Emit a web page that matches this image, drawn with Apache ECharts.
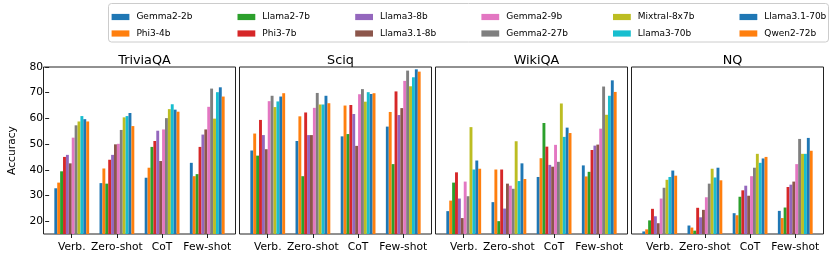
<!DOCTYPE html>
<html>
<head>
<meta charset="utf-8">
<script src="https://cdn.jsdelivr.net/npm/echarts@6/dist/echarts.min.js"></script>
<style>
html,body{margin:0;padding:0;background:#fff;}
#chart{width:831px;height:260px;}
</style>
</head>
<body>
<div id="chart"></div>
<script>
// ---------- data ----------
const categories = ['Verb.', 'Zero-shot', 'CoT', 'Few-shot'];
const models = ['Gemma2-2b', 'Phi3-4b', 'Llama2-7b', 'Phi3-7b', 'Llama3-8b', 'Llama3.1-8b',
  'Gemma2-9b', 'Gemma2-27b', 'Mixtral-8x7b', 'Llama3-70b', 'Llama3.1-70b', 'Qwen2-72b'];
const datasets = ['TriviaQA', 'Sciq', 'WikiQA', 'NQ'];
const yTicks = [20, 30, 40, 50, 60, 70, 80];

// rows: models (order above); columns: categories
const triviaQA = [
  [32.8, 34.8, 36.9, 42.7],
  [35.0, 40.5, 40.8, 37.5],
  [39.4, 34.6, 48.9, 38.3],
  [45.0, 43.9, 51.2, 48.9],
  [45.8, 45.8, 55.2, 53.7],
  [42.5, 49.9, 43.4, 55.7],
  [52.5, 50.1, 55.7, 64.5],
  [57.3, 55.5, 60.1, 71.6],
  [58.8, 60.4, 63.6, 59.9],
  [60.9, 60.9, 65.5, 70.2],
  [59.7, 62.1, 63.4, 72.1],
  [58.8, 57.0, 62.6, 68.5]
];
const sciq = [
  [47.5, 51.2, 53.0, 56.8],
  [54.1, 60.8, 65.0, 62.5],
  [45.5, 37.5, 53.9, 42.2],
  [59.4, 62.3, 65.2, 70.5],
  [53.5, 53.5, 61.7, 61.3],
  [48.0, 53.5, 49.3, 64.0],
  [66.7, 64.1, 69.4, 74.6],
  [68.8, 69.9, 71.4, 78.6],
  [64.4, 65.4, 66.5, 72.5],
  [66.6, 65.4, 70.2, 76.0],
  [68.5, 68.8, 69.5, 79.1],
  [69.8, 65.9, 69.8, 78.2]
];
const wikiQA = [
  [23.9, 27.4, 37.2, 41.7],
  [28.0, 40.1, 44.5, 37.4],
  [35.0, 20.0, 58.2, 39.2],
  [39.0, 40.1, 49.0, 47.7],
  [28.8, 24.9, 41.9, 49.4],
  [21.2, 34.6, 41.2, 49.8],
  [35.4, 33.8, 49.7, 56.0],
  [29.7, 32.6, 43.1, 72.4],
  [56.6, 51.1, 65.8, 61.4],
  [40.1, 35.6, 52.8, 68.8],
  [43.6, 42.5, 56.4, 74.8],
  [40.4, 36.4, 54.3, 70.3]
];
const nq = [
  [16.0, 18.3, 23.1, 24.0],
  [16.8, 17.5, 22.3, 21.2],
  [20.3, 16.3, 29.5, 25.3],
  [24.8, 25.2, 32.0, 33.3],
  [21.9, 21.5, 33.8, 34.2],
  [19.2, 24.4, 29.9, 35.4],
  [28.8, 29.3, 37.5, 42.2],
  [33.0, 34.6, 40.8, 52.0],
  [36.1, 40.4, 46.2, 46.2],
  [37.2, 37.0, 42.7, 46.2],
  [39.7, 40.8, 44.4, 52.4],
  [37.7, 35.9, 45.0, 47.4]
];
const panelData = [triviaQA, sciq, wikiQA, nq];

// ---------- style ----------
const palette = ['#1f77b4', '#ff7f0e', '#2ca02c', '#d62728', '#9467bd', '#8c564b',
  '#e377c2', '#7f7f7f', '#bcbd22', '#17becf', '#1f77b4', '#ff7f0e'];
const FONT = 'DejaVu Sans';
const panelLeft0 = 43.5, panelStep = 196, panelW = 192;
const gridTop = 67, gridH = 167;
const innerOffset = 5.65, innerW = 180.7;

const grids = [], xAxes = [], yAxes = [], series = [], titles = [];
datasets.forEach((ds, p) => {
  const L = panelLeft0 + p * panelStep;
  grids.push({left: L, top: gridTop, width: panelW, height: gridH, show: true,
    borderColor: '#222', borderWidth: 1, backgroundColor: 'transparent', containLabel: false});
  grids.push({left: L + innerOffset, top: gridTop, width: innerW, height: gridH, containLabel: false});
  const gFrame = 2 * p, gData = 2 * p + 1;
  xAxes.push({gridIndex: gFrame, type: 'value', show: false, min: 0, max: 1});
  yAxes.push({gridIndex: gFrame, type: 'value', show: false, min: 0, max: 1});
  xAxes.push({gridIndex: gData, type: 'category', data: categories,
    axisLine: {show: false},
    axisTick: {show: true, alignWithLabel: true, length: 4, lineStyle: {color: '#222'}},
    axisLabel: {show: true, interval: 0, margin: 8, color: '#000', fontFamily: FONT, fontSize: 10.7}
  });
  yAxes.push({gridIndex: gData, type: 'value', min: 15, max: 80,
    splitLine: {show: false},
    axisLine: {show: false},
    axisTick: {show: p === 0, length: 4, customValues: yTicks, lineStyle: {color: '#222'}},
    axisLabel: {show: p === 0, margin: 6, customValues: yTicks, color: '#000', fontFamily: FONT, fontSize: 10.7},
    name: p === 0 ? 'Accuracy' : '',
    nameLocation: 'middle', nameGap: 31,
    nameTextStyle: {color: '#000', fontFamily: FONT, fontSize: 10.7}
  });
  titles.push({text: ds, left: L + panelW / 2, top: 49, textAlign: 'center',
    textStyle: {fontFamily: FONT, fontSize: 12.8, fontWeight: 'normal', color: '#000'}});
  models.forEach((m, k) => {
    series.push({type: 'bar', name: m, xAxisIndex: 2 * p + 1, yAxisIndex: 2 * p + 1,
      data: panelData[p][k], barWidth: 2.9, barGap: '0%',
      itemStyle: {color: palette[k]}, animation: false, silent: true});
  });
});

// legend: 6 columns, 2 rows (column-major like matplotlib, expanded)
const legendCols = [111.6, 237.5, 355.2, 481.4, 613.0, 739.5];
const legends = legendCols.map((x, c) => ({
  orient: 'vertical', left: x, top: 11.5, padding: 0,
  data: [models[2 * c], models[2 * c + 1]],
  itemWidth: 17.8, itemHeight: 6.2, itemGap: 5.5,
  icon: 'rect', selectedMode: false,
  textStyle: {fontFamily: FONT, fontSize: 9, color: '#000', lineHeight: 11, padding: [0, 0, 0, 2]}
}));

const chart = echarts.init(document.getElementById('chart'), null, {renderer: 'canvas'});
chart.setOption({
  animation: false,
  color: palette,
  title: titles,
  legend: legends,
  grid: grids,
  xAxis: xAxes,
  yAxis: yAxes,
  series: series,
  graphic: [{type: 'rect', shape: {x: 108.5, y: 3.5, width: 720, height: 38.5, r: 3},
    style: {fill: '#fff', stroke: '#cccccc', lineWidth: 1}, z: -1}]
});
</script>
</body>
</html>
